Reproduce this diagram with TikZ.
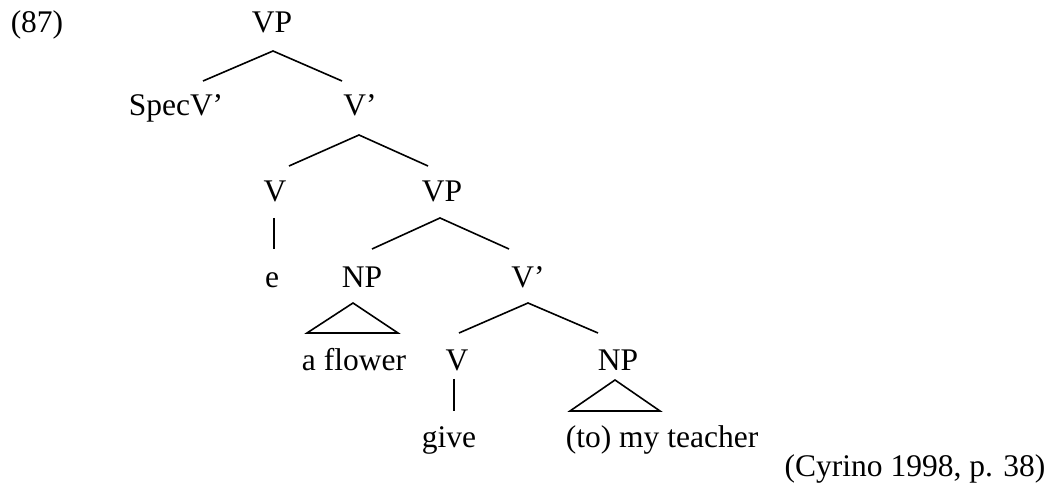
\documentclass[tikz,border=0pt]{standalone}
\usepackage{fontspec}
\setmainfont{Liberation Serif}
\begin{document}
\begin{tikzpicture}[x=0.5pt,y=-0.5pt,line width=0.8pt,
    lbl/.style={anchor=base,inner sep=0pt,font=\fontsize{15.75}{18}\selectfont}]
  \useasboundingbox (0,0) rectangle (1054,490);
  % labels
  \node[lbl] (ex) at (37,33) {(87)};
  \node[lbl] (vp) at (272,33) {VP};
  \node[lbl] (specv) at (176,116) {SpecV’};
  \node[lbl] (vbar) at (360,116) {V’};
  \node[lbl] (v) at (275,202) {V};
  \node[lbl] (vpb) at (442,202) {VP};
  \node[lbl] (e) at (272,288) {e};
  \node[lbl] (np) at (362,288) {NP};
  \node[lbl] (vbarb) at (528,288) {V’};
  \node[lbl] (flower) at (354,371) {a flower};
  \node[lbl] (vb) at (457,371) {V};
  \node[lbl] (npb) at (618,371) {NP};
  \node[lbl] (give) at (449,448) {give};
  \node[lbl] (teacher) at (662,448) {(to) my teacher};
  \node[lbl] (cite) at (915,477) {(Cyrino 1998, p. 38)};
  % branch points
  \coordinate (vp-t) at (273,51);
  \coordinate (vp-l) at (203,81);
  \coordinate (vp-r) at (342,81);
  \coordinate (vbar-t) at (359,135);
  \coordinate (vbar-l) at (289,166);
  \coordinate (vbar-r) at (428,166);
  \coordinate (v-t) at (274,218);
  \coordinate (v-b) at (274,249);
  \coordinate (vpb-t) at (440,218);
  \coordinate (vpb-l) at (372,249);
  \coordinate (vpb-r) at (509,249);
  \coordinate (np-t) at (353,303);
  \coordinate (np-l) at (307,333);
  \coordinate (np-r) at (398,333);
  \coordinate (vbarb-t) at (528,303);
  \coordinate (vbarb-l) at (459,333);
  \coordinate (vbarb-r) at (598,333);
  \coordinate (vb-t) at (454,379);
  \coordinate (vb-b) at (454,411);
  \coordinate (npb-t) at (615,380);
  \coordinate (npb-l) at (570,411);
  \coordinate (npb-r) at (660,411);
  % branches
  \draw (vp-l) -- (vp-t) -- (vp-r);
  \draw (vbar-l) -- (vbar-t) -- (vbar-r);
  \draw (v-t) -- (v-b);
  \draw (vpb-l) -- (vpb-t) -- (vpb-r);
  \draw (np-t) -- (np-l) -- (np-r) -- cycle;
  \draw (vbarb-l) -- (vbarb-t) -- (vbarb-r);
  \draw (vb-t) -- (vb-b);
  \draw (npb-t) -- (npb-l) -- (npb-r) -- cycle;
\end{tikzpicture}
\end{document}
